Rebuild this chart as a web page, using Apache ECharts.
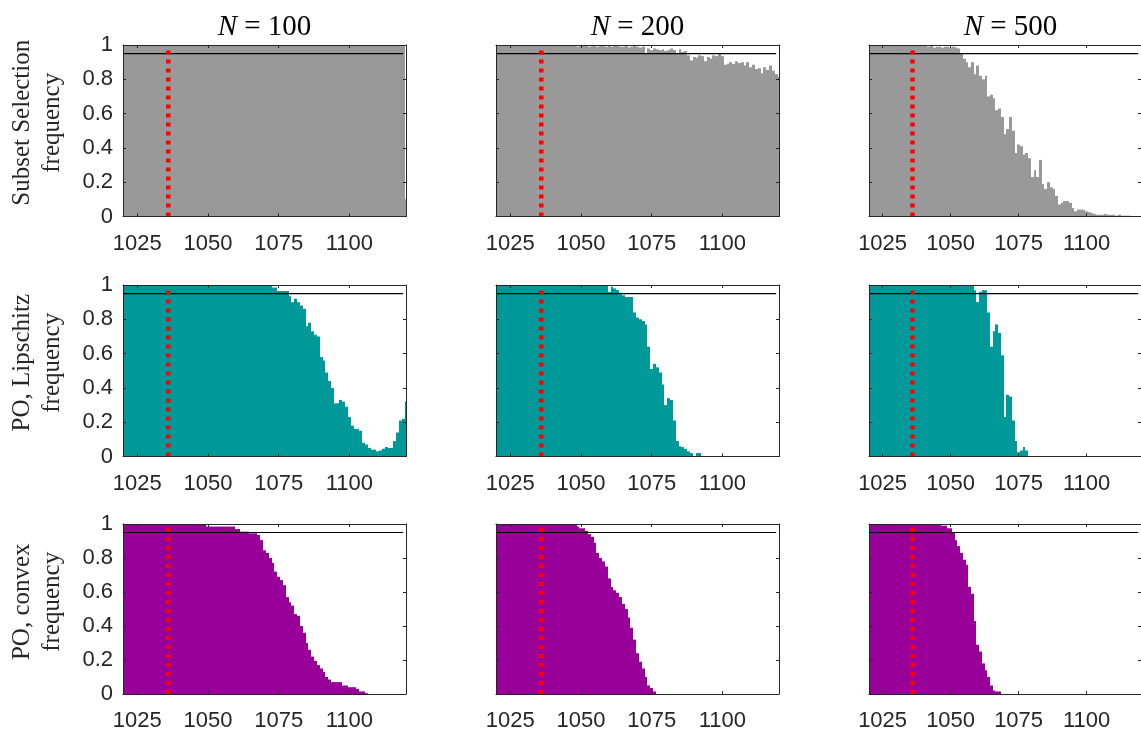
<!DOCTYPE html>
<html>
<head>
<meta charset="utf-8">
<script src="https://cdn.jsdelivr.net/npm/echarts@6/dist/echarts.min.js"></script>
<style>
html, body { margin: 0; padding: 0; background: #fff; }
#chart { width: 1141px; height: 732px; }
</style>
</head>
<body>
<div id="chart"></div>
<script>
// x positions run 1020, 1021, ... 1120 (one bar per integer)
var xStart = 1020;
var xEnd = 1120;
var xTicks = [1025, 1050, 1075, 1100];
var threshold = 0.95;
var thresholdEnd = 1119;
var trueValue = 1036;
var columnTitles = ['100', '200', '500'];
var rowLabels = [['Subset Selection', 'frequency'], ['PO, Lipschitz', 'frequency'], ['PO, convex', 'frequency']];
var rowColors = ['#999999', '#009999', '#990099'];

// Subset Selection
var subsetN100 = [
  1,1,1,1,1,1,1,1,1,1, 1,1,1,1,1,1,1,1,1,1, 1,1,1,1,1,1,1,1,1,1,
  1,1,1,1,1,1,1,1,1,1, 1,1,1,1,1,1,1,1,1,1, 1,1,1,1,1,1,1,1,1,1,
  1,1,1,1,1,1,1,1,1,1, 1,1,1,1,1,1,1,1,1,1, 1,1,1,1,1,1,1,1,1,1,
  1,1,1,1,1,1,1,1,1,1, 0.1
];
var subsetN200 = [
  1,1,1,1,1,1,1,1,1,1,1,1,0.995,1,1,1,1,1,0.995,1,1,1,1,0.995,1,1,
  1,0.995,1,0.99,1,1,0.995,0.99,1,1,0.99,1,0.995,0.99,1,0.99,0.995,1,0.99,0.99,1,0.985,0.99,1,0.99,0.985,0.99,
  0.95,
  0.98,0.97,0.98,0.975,0.97,0.975,0.965,0.97,0.98,0.97,0.95,0.975,0.96,0.965,0.94,
  0.91,0.93,0.925,0.94,0.935,0.905,0.93,0.92,0.94,0.935,0.95,0.935,
  0.885,0.89,0.9,0.89,0.905,0.895,0.9,0.88,0.9,0.87,0.885,0.86,0.865,0.835,0.87,0.855,0.88,0.85,0.83,0.815
];
var subsetN500 = [
  1,1,1,1,1,1,1,1,1,1, 1,1,1,1,1,1,1,1,1,1, 1,
  0.995,0.99,1,0.985,0.99,0.99,0.985,0.99,0.99,0.985,0.99,
  0.985,0.98,
  0.95,0.92,0.90,0.87,0.90,0.83,0.88,0.82,0.80,0.82,
  0.70,0.71,0.69,0.62,0.63,0.58,0.48,0.51,0.58,0.50,
  0.37,0.42,0.41,0.36,0.37,0.34,0.23,0.27,0.23,0.33,
  0.19,0.16,0.20,0.17,0.16,0.12,0.07,0.08,0.09,0.09,
  0.08,0.05,0.03,0.04,0.04,0.04,0.03,0.025,0.02,0.015,
  0.01,0.01,0.01,0.015,0.01,0.01,0.01,0.005,0.01,0.005,
  0.005,0.005,0.005,0,0,0,0
];

// PO, Lipschitz
var lipN100 = [
  1,1,1,1,1,1,1,1,1,1, 1,1,1,1,1,1,1,1,1,1, 1,1,1,1,1,1,1,1,1,1,
  1,1,1,1,1,1,1,1,1,1, 1,1,1,1,
  0.995,0.995,0.995,0.995,0.995,0.995,0.995,0.995,0.995,
  0.985,0.985,
  0.965,0.965,0.965,0.965,
  0.935,0.90,0.92,0.90,0.88,0.86,0.76,0.78,0.73,0.71,
  0.70,0.58,0.56,0.49,0.44,0.40,0.31,0.31,0.33,0.32,
  0.29,0.23,0.18,0.16,0.16,0.15,0.08,0.07,0.05,0.04,
  0.04,0.03,0.035,0.045,0.055,0.05,0.05,0.09,0.14,0.21,
  0.22,0.32
];
var lipN200 = [
  1,1,1,1,1,1,1,1,1,1, 1,1,1,1,1,1,1,1,1,1, 1,1,1,1,1,1,1,1,1,1,
  1,1,1,1,1,1,1,1,1,1,
  0.96,0.99,0.98,0.97,0.955,0.94,0.93,0.93,0.93,0.84,
  0.81,0.80,0.79,0.77,0.64,0.51,0.54,0.52,0.49,0.42,
  0.30,0.34,0.33,0.21,0.09,0.06,0.055,0.045,0.03,0.02,
  0,0.02,0.02,
  0,0,0,0,0,0,0,0,0,0, 0,0,0,0,0,0,0,0,0,0, 0,0,0,0,0,0,0,0
];
var lipN500 = [
  1,1,1,1,1,1,1,1,1,1, 1,1,1,1,1,1,1,1,1,1, 1,1,1,1,1,1,1,1,1,1,
  1,1,1,1,0.995,1,1,1,1,
  0.97,0.90,0.96,0.97,0.97,0.84,0.64,0.73,0.77,0.72,
  0.59,0.23,0.36,0.35,0.21,0.09,0.025,0.035,0.055,0.035,
  0,0,0,0,0,0,0,0,0,0, 0,0,0,0,0,0,0,0,0,0,
  0,0,0,0,0,0,0,0,0,0, 0,0,0,0,0,0,0,0,0,0, 0,0
];

// PO, convex
var convexN100 = [
  1,1,1,1,1,1,1,1,1,1, 1,1,1,1,1,1,1,1,1,1, 1,1,1,1,1,1,1,1,1,1,
  0.985,0.985,0.985,0.985,0.985,0.985,0.985,0.985,0.985,0.985,
  0.97,0.97,
  0.955,0.955,0.955,
  0.945,0.945,0.945,
  0.935,0.905,0.845,0.83,0.80,0.77,0.72,0.69,0.67,0.64,
  0.57,0.54,0.52,0.47,0.46,0.40,0.36,0.30,0.26,0.22,
  0.195,0.17,0.15,0.13,0.10,0.085,0.07,
  0.07,0.07,0.07,
  0.05,0.05,
  0.04,0.04,0.04,
  0.03,
  0.015,0.015,
  0.005,
  0,0,0,0,0,0,0,0,0,0,0,0,0,0
];
var convexN200 = [
  1,1,1,1,1,1,1,1,1,1, 1,1,1,1,1,1,1,1,1,1, 1,1,1,1,1,1,1,1,1,
  0.985,
  0.975,0.975,
  0.96,0.94,0.925,0.89,0.83,0.80,0.78,0.75,0.68,0.63,
  0.61,0.595,0.57,0.53,0.50,0.45,0.39,0.32,0.24,0.19,
  0.15,0.10,0.05,0.035,0.015,
  0,0,0,0,0,0,0,0,0,0, 0,0,0,0,0,0,0,0,0,0,
  0,0,0,0,0,0,0,0,0,0, 0,0,0,0,0,0,0,0,0,0, 0,0,0,0
];
var convexN500 = [
  0.995,0.995,0.995,0.995,0.995,0.995,0.995,0.995,0.995,0.995,0.995,0.995,0.995,0.995,
  1,1,1,1,1,1,1,1,1,1,1,1,
  0.995,
  0.99,0.99,
  0.975,0.975,
  0.95,0.905,0.87,0.83,0.79,0.76,0.63,0.59,0.43,0.29,
  0.25,0.18,0.14,0.10,0.05,0.02,
  0.015,0.015,
  0,0,0,0,0,0,0,0,0,0, 0,0,0,0,0,0,0,0,0,0,
  0,0,0,0,0,0,0,0,0,0, 0,0,0,0,0,0,0,0,0,0,
  0,0,0,0,0,0,0,0,0,0, 0,0
];

var panels = [
  [subsetN100, subsetN200, subsetN500],
  [lipN100, lipN200, lipN500],
  [convexN100, convexN200, convexN500]
];

var colLeft = [123, 496, 869];
var rowTop = [45, 285, 524];
var gridW = 283;
var gridH = 171.5;
var axisColor = '#262626';
var tickFont = { fontFamily: 'Liberation Sans', fontSize: 22, color: '#262626' };

function yLabel(v) {
  if (v === 0) return '0';
  if (v === 1) return '1';
  return v.toFixed(1);
}

// one histogram bar per integer, spanning [x - 0.5, x + 0.5]
function makeBarRenderer(color) {
  return function (params, api) {
    var x = api.value(0), y = api.value(1);
    if (!(y > 0)) return null;
    var p0 = api.coord([x - 0.5, y]);
    var p1 = api.coord([x + 0.5, 0]);
    var x0 = Math.round(p0[0]), x1 = Math.round(p1[0]);
    var rect = echarts.graphic.clipRectByRect(
      { x: x0, y: p0[1], width: x1 - x0, height: p1[1] - p0[1] },
      { x: params.coordSys.x, y: params.coordSys.y, width: params.coordSys.width, height: params.coordSys.height }
    );
    if (!rect) return null;
    return { type: 'rect', shape: rect, style: { fill: color } };
  };
}

var chart = echarts.init(document.getElementById('chart'));
var grids = [], xAxes = [], yAxes = [], series = [], graphics = [];

for (var r = 0; r < 3; r++) {
  for (var c = 0; c < 3; c++) {
    var g = grids.length;
    grids.push({ left: colLeft[c], top: rowTop[r], width: gridW, height: gridH });
    var base = {
      gridIndex: g, type: 'value', min: xStart, max: xEnd, z: 10,
      axisLine: { show: true, onZero: false, lineStyle: { color: axisColor, width: 1 } },
      axisTick: { show: true, inside: true, length: 3, customValues: xTicks, lineStyle: { color: axisColor } },
      splitLine: { show: false }
    };
    xAxes.push(Object.assign({}, base, {
      position: 'bottom',
      axisLabel: Object.assign({ show: true, margin: 16, customValues: xTicks, formatter: function (v) { return String(v); } }, tickFont)
    }));
    xAxes.push(Object.assign({}, base, { position: 'top', axisLabel: { show: false } }));
    var ybase = {
      gridIndex: g, type: 'value', min: 0, max: 1, interval: 0.2, z: 10,
      axisLine: { show: true, onZero: false, lineStyle: { color: axisColor, width: 1 } },
      axisTick: { show: true, inside: true, length: 3, lineStyle: { color: axisColor } },
      splitLine: { show: false }
    };
    yAxes.push(Object.assign({}, ybase, {
      position: 'left',
      axisLabel: Object.assign({ show: c === 0, margin: 10, formatter: yLabel }, tickFont)
    }));
    yAxes.push(Object.assign({}, ybase, { position: 'right', axisLabel: { show: false } }));

    var vals = panels[r][c];
    series.push({
      type: 'custom', xAxisIndex: 2 * g, yAxisIndex: 2 * g, z: 2,
      renderItem: makeBarRenderer(rowColors[r]),
      encode: { x: 0, y: 1 },
      data: vals.map(function (v, k) { return [xStart + k, v]; })
    });
    series.push({
      type: 'line', xAxisIndex: 2 * g, yAxisIndex: 2 * g, symbol: 'none', z: 3,
      lineStyle: { color: '#000', width: 1.2 },
      data: [[xStart, threshold], [thresholdEnd, threshold]]
    });
    series.push({
      type: 'line', xAxisIndex: 2 * g, yAxisIndex: 2 * g, symbol: 'none', z: 4,
      lineStyle: { color: '#ff0000', width: 4.5, type: [4, 5] },
      data: [[trueValue, 0], [trueValue, 1]]
    });
  }
}

for (var c2 = 0; c2 < 3; c2++) {
  graphics.push({
    type: 'text', x: colLeft[c2] + gridW / 2, y: 27,
    style: {
      text: '{i|N} = ' + columnTitles[c2],
      fontFamily: 'Liberation Serif', fontSize: 29, fill: '#000',
      align: 'center', verticalAlign: 'middle',
      textAlign: 'center', textVerticalAlign: 'middle',
      rich: { i: { fontFamily: 'Liberation Serif', fontSize: 29, fontStyle: 'italic' } }
    }
  });
}
for (var r2 = 0; r2 < 3; r2++) {
  var cy = rowTop[r2] + gridH / 2 - 8;
  [22, 52].forEach(function (x, li) {
    graphics.push({
      type: 'text', x: x, y: cy, rotation: Math.PI / 2,
      style: {
        text: rowLabels[r2][li],
        fontFamily: 'Liberation Serif', fontSize: 25, fill: '#262626',
        align: 'center', verticalAlign: 'middle',
        textAlign: 'center', textVerticalAlign: 'middle'
      }
    });
  });
}

var option = {
  animation: false,
  backgroundColor: '#fff',
  grid: grids,
  xAxis: xAxes,
  yAxis: yAxes,
  series: series,
  graphic: graphics
};
chart.setOption(option);
</script>
</body>
</html>
